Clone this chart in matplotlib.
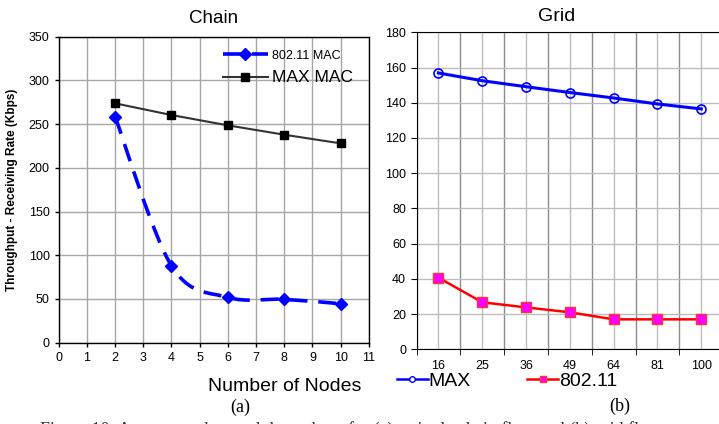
import numpy as np
import matplotlib
matplotlib.use("Agg")
import matplotlib.pyplot as plt
from matplotlib.path import Path
from matplotlib.patches import PathPatch

plt.rcParams['font.family'] = ['Liberation Sans', 'DejaVu Sans']

# Chain (a)
chain_nodes = [2, 4, 6, 8, 10]
chain_max = [273.8, 260.4, 248.6, 237.9, 228.0]
chain_80211 = [258.5, 88.0, 51.9, 49.6, 44.6]

# Grid (b)
grid_labels = ['16', '25', '36', '49', '64', '81', '100']
grid_max = [156.9, 152.5, 149.1, 145.8, 142.7, 139.3, 136.5]
grid_80211 = [40.7, 26.7, 23.8, 21.0, 17.0, 17.0, 17.0]


def smooth_path(xs, ys):
    # Excel-like smoothed line: cubic bezier segments through the points
    p = np.column_stack([xs, ys]).astype(float)
    ext = np.vstack([p[0], p, p[-1]])
    verts = [p[0]]
    codes = [Path.MOVETO]
    for i in range(1, len(ext) - 2):
        c1 = ext[i] + (ext[i + 1] - ext[i - 1]) / 6
        c2 = ext[i + 1] - (ext[i + 2] - ext[i]) / 6
        verts += [c1, c2, ext[i + 1]]
        codes += [Path.CURVE4] * 3
    return Path(verts, codes)


fig = plt.figure(figsize=(7.19, 4.24), dpi=100)
W, H = 719, 424

# ---- left: Chain
ax1 = fig.add_axes([58.7 / W, 1 - 342.7 / H, (368.8 - 58.7) / W, (342.7 - 36.7) / H])
ax1.set_xlim(0, 11)
ax1.set_ylim(0, 350)
ax1.set_xticks(range(0, 12))
ax1.set_yticks(range(0, 351, 50))
ax1.grid(True, color='#a6a6a6', lw=1)
ax1.set_axisbelow(True)
ax1.tick_params(labelsize=9, length=3, direction='out', width=1)
for s in ax1.spines.values():
    s.set_color('black')
    s.set_linewidth(1)

ax1.add_patch(PathPatch(smooth_path(chain_nodes, chain_80211), fill=False,
                        edgecolor='#0000ff', lw=2.6, linestyle=(0, (5, 3))))
ax1.plot(chain_nodes, chain_80211, ls='none',
         marker='D', ms=6.5, mfc='#0000ff', mec='#0000ff')
h1, = ax1.plot([], [], ls=(0, (5, 3)), color='#0000ff', lw=2.6,
               marker='D', ms=6, mfc='#0000ff', mec='#0000ff')
h2, = ax1.plot(chain_nodes, chain_max, '-', color='#333333', lw=1.5,
               marker='s', ms=6, mfc='black', mec='black')
leg = ax1.legend([h1, h2], ['802.11 MAC', 'MAX MAC'], loc='upper right',
                 bbox_to_anchor=(0.98, 0.99),
                 frameon=False, handlelength=3.2, handletextpad=0.3,
                 borderaxespad=0.3, labelspacing=0.55)
leg.get_texts()[0].set_fontsize(9)
leg.get_texts()[1].set_fontsize(12.5)

ax1.set_title('Chain', fontsize=13.5, pad=10)
ax1.set_ylabel('Throughput - Receiving Rate (Kbps)', fontsize=8.5,
               fontweight='bold', labelpad=8)
ax1.set_xlabel('Number of Nodes', fontsize=14, labelpad=3)
ax1.xaxis.set_label_coords(0.73, -0.115)

# ---- right: Grid
ax2 = fig.add_axes([416.5 / W, 1 - 349.3 / H, (723.2 - 416.5) / W, (349.3 - 32.3) / H])
xpos = np.arange(len(grid_labels))
ax2.set_xlim(-0.5, len(grid_labels) - 0.5)
ax2.set_ylim(0, 180)
ax2.set_yticks(range(0, 181, 20))
ax2.set_xticks(xpos)
ax2.set_xticklabels(grid_labels)
ax2.set_xticks(np.arange(-0.5, len(grid_labels)), minor=True)
ax2.tick_params(axis='x', which='major', length=0, pad=8, labelsize=9)
ax2.tick_params(axis='x', which='minor', length=4, direction='out')
ax2.tick_params(axis='y', labelsize=9, length=4, direction='out')
ax2.grid(True, which='major', color='#bdbdbd', lw=1)
ax2.grid(True, which='minor', axis='x', color='#8c8c8c', lw=1)
ax2.set_axisbelow(True)
for s in ax2.spines.values():
    s.set_color('black')

ax2.plot(xpos, grid_max, '-', color='#0000ff', lw=2.2,
         marker='o', ms=6.5, mfc='none', mec='#0000ff', mew=1.2)
ax2.plot(xpos, grid_80211, '-', color='#ff0000', lw=1.8,
         marker='s', ms=7, mfc='#ff00ff', mec='#ff3333', mew=1)
ax2.set_title('Grid', fontsize=14, pad=8, x=0.458)

hm, = ax2.plot([], [], '-', color='#0000ff', lw=1.8, marker='o', ms=4,
               mfc='white', mec='#0000ff')
hr, = ax2.plot([], [], '-', color='#ff0000', lw=1.8, marker='s', ms=5,
               mfc='#ff00ff', mec='#ff3333')
fig.legend([hm, hr], ['MAX', '802.11'], loc='center left',
           bbox_to_anchor=(383 / W, 1 - 381 / H), ncol=2, frameon=False,
           fontsize=14, handlelength=1.6, handletextpad=0.05, columnspacing=2.9,
           borderpad=0.2)

serif = ['Liberation Serif', 'DejaVu Serif']
fig.text(240 / W, 1 - 407 / H, '(a)', fontsize=13, family=serif, ha='center', va='center')
fig.text(620 / W, 1 - 406 / H, '(b)', fontsize=13, family=serif, ha='center', va='center')
fig.text(40 / W, 1 - 430 / H, 'Figure 10: Average end-to-end throughput for (a) a single chain flow and (b) grid flows',
         fontsize=13, family=serif, ha='left', va='center', color='#333333')

fig.savefig('out.png', dpi=100)
